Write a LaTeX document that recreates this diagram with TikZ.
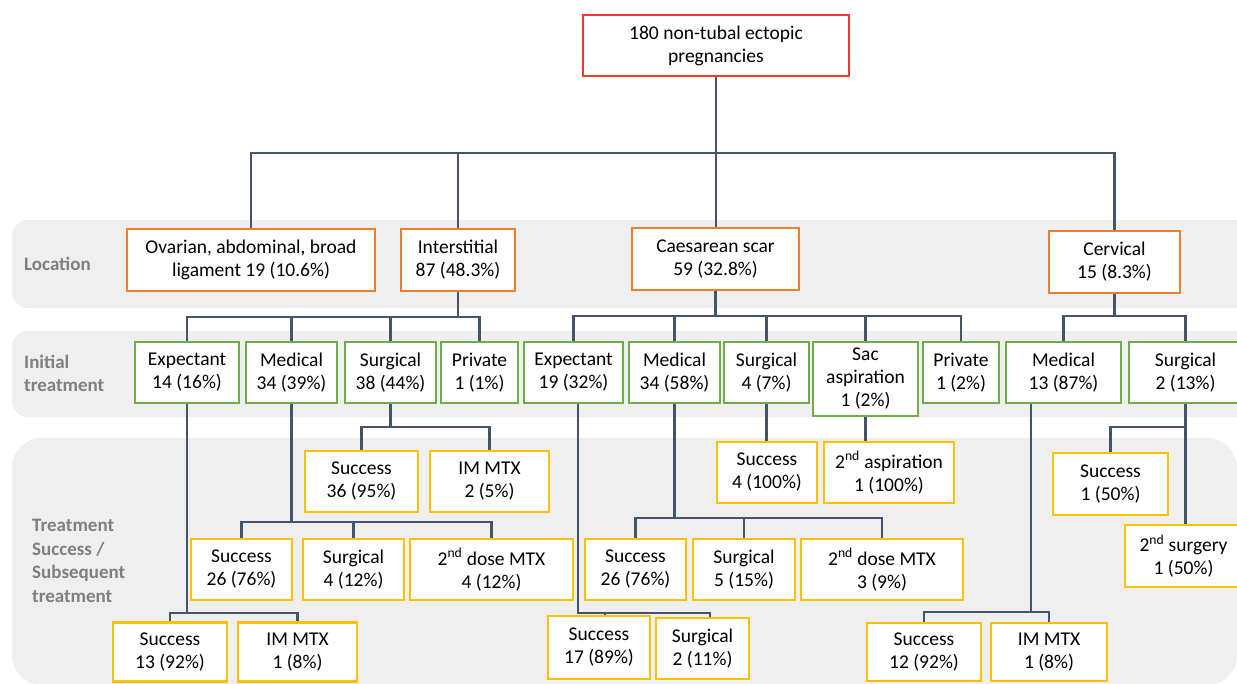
\documentclass[tikz,border=0pt]{standalone}
\usepackage{fontspec}
\setmainfont{Carlito}
\definecolor{lnc}{HTML}{44546A}
\definecolor{orng}{HTML}{ED7D31}
\definecolor{grn}{HTML}{70AD47}
\definecolor{ylw}{HTML}{FFC000}
\definecolor{rd}{HTML}{F03A2E}
\definecolor{band}{HTML}{EFEFEF}
\definecolor{labc}{HTML}{7F7F7F}
\begin{document}
\begin{tikzpicture}[x=1pt,y=-1pt,
  bx/.style={draw, line width=2.2pt, fill=white, inner sep=0pt, align=center,
     font=\fontsize{19.5}{23}\selectfont, text=black},
  rbox/.style={bx, draw=rd},
  obox/.style={bx, draw=orng},
  gbox/.style={bx, draw=grn},
  ybox/.style={bx, draw=ylw},
  ln/.style={draw=lnc, line width=2.2pt},
  lab/.style={anchor=west, align=left, inner sep=0pt, text=labc,
     font=\fontsize{19}{23.5}\selectfont\bfseries},
  bandbg/.style={fill=band, draw=none}
]
\useasboundingbox (0,0) rectangle (1237,683);
\clip (0,0) rectangle (1237,683);
\fill[white] (0,0) rectangle (1237,683);

% bands
\path[bandbg, rounded corners=16pt] (12,220) rectangle (1260,308);
\path[bandbg, rounded corners=16pt] (12,331) rectangle (1260,417);
\path[bandbg, rounded corners=30pt] (12,438) rectangle (1237,685);

% band labels
\node[lab] (labloc) at (24,264) {Location};
\node[lab] (labini) at (24,373.5) {Initial\\treatment};
\node[lab] (labsub) at (32,561) {Treatment\\Success /\\Subsequent\\treatment};

% boxes: root and location
\node[rbox, minimum width=266, minimum height=61] (root) at (716,45.5) {180 non-tubal ectopic\\pregnancies};
\node[obox, minimum width=248, minimum height=62] (ova) at (251,260) {Ovarian, abdominal, broad\\ligament 19 (10.6\%)};
\node[obox, minimum width=114, minimum height=62] (inter) at (458,260) {Interstitial\\87 (48.3\%)};
\node[obox, minimum width=167, minimum height=62] (caes) at (715.5,259) {Caesarean scar\\59 (32.8\%)};
\node[obox, minimum width=131, minimum height=62] (cerv) at (1114.5,262) {Cervical\\15 (8.3\%)};

% initial treatment
\node[gbox, minimum width=104, minimum height=61] (exp1) at (187,372.5) {Expectant\\14 (16\%)};
\node[gbox, minimum width=91, minimum height=61] (med1) at (291.5,372.5) {Medical\\34 (39\%)};
\node[gbox, minimum width=91, minimum height=61] (sur1) at (390.5,372.5) {Surgical\\38 (44\%)};
\node[gbox, minimum width=77, minimum height=61] (pri1) at (479.5,372.5) {Private\\1 (1\%)};
\node[gbox, minimum width=99, minimum height=61] (exp2) at (573.5,372.5) {Expectant\\19 (32\%)};
\node[gbox, minimum width=91, minimum height=61] (med2) at (674.5,372.5) {Medical\\34 (58\%)};
\node[gbox, minimum width=85, minimum height=61] (sur2) at (766.5,372.5) {Surgical\\4 (7\%)};
\node[gbox, minimum width=105, minimum height=74] (sac) at (865.5,379) {Sac\\aspiration\\1 (2\%)};
\node[gbox, minimum width=76, minimum height=61] (pri2) at (961,372.5) {Private\\1 (2\%)};
\node[gbox, minimum width=115, minimum height=61] (med3) at (1063.5,372.5) {Medical\\13 (87\%)};
\node[gbox, minimum width=113, minimum height=61] (sur3) at (1185.5,372.5) {Surgical\\2 (13\%)};

% subsequent
\node[ybox, minimum width=113, minimum height=61] (s36) at (361.5,481.5) {Success\\36 (95\%)};
\node[ybox, minimum width=119, minimum height=61] (im2) at (489.5,481.5) {IM MTX\\2 (5\%)};
\node[ybox, minimum width=100, minimum height=61] (s4) at (767,472.5) {Success\\4 (100\%)};
\node[ybox, minimum width=130, minimum height=61] (asp2) at (889,472.5) {2\textsuperscript{nd} aspiration\\1 (100\%)};
\node[ybox, minimum width=115, minimum height=62] (s1c) at (1110.5,484) {Success\\1 (50\%)};
\node[ybox, minimum width=117, minimum height=62] (sur2nd) at (1183.5,556) {2\textsuperscript{nd} surgery\\1 (50\%)};

\node[ybox, minimum width=101, minimum height=61] (s26a) at (241.5,569.5) {Success\\26 (76\%)};
\node[ybox, minimum width=101, minimum height=61] (sg4) at (353.5,569.5) {Surgical\\4 (12\%)};
\node[ybox, minimum width=163, minimum height=61] (dose4) at (491.5,569.5) {2\textsuperscript{nd} dose MTX\\4 (12\%)};
\node[ybox, minimum width=101, minimum height=61] (s26b) at (635.5,569.5) {Success\\26 (76\%)};
\node[ybox, minimum width=102, minimum height=61] (sg5) at (744,569.5) {Surgical\\5 (15\%)};
\node[ybox, minimum width=162, minimum height=61] (dose3) at (882,569.5) {2\textsuperscript{nd} dose MTX\\3 (9\%)};

\node[ybox, minimum width=114, minimum height=59] (s13) at (170,652) {Success\\13 (92\%)};
\node[ybox, minimum width=119, minimum height=59] (im1a) at (297.5,652) {IM MTX\\1 (8\%)};
\node[ybox, minimum width=102, minimum height=63] (s17) at (599,647.5) {Success\\17 (89\%)};
\node[ybox, minimum width=93, minimum height=61] (sg2) at (702.5,648.5) {Surgical\\2 (11\%)};
\node[ybox, minimum width=114, minimum height=58] (s12) at (924,652) {Success\\12 (92\%)};
\node[ybox, minimum width=116, minimum height=58] (im1b) at (1049,652) {IM MTX\\1 (8\%)};

% helper coordinates for off-centre connectors
\path (exp2.south) ++(4.5,0) coordinate (e2);
\path (s17.north) ++(6,0) coordinate (s17t);
\path (sg2.north) ++(7.5,0) coordinate (sg2t);
\path (med3.south) ++(-32.5,0) coordinate (m3);

% connectors
\draw[ln] (root.south) -- (root.south |- caes.north);
\draw[ln] (ova.north) |- (cerv.north |- 0,153) -- (cerv.north);
\draw[ln] (inter.north) -- (inter.north |- 0,153);

\draw[ln] (inter.south) -- (inter.south |- 0,317);
\draw[ln] (exp1.north) |- (pri1.north |- 0,317) -- (pri1.north);
\draw[ln] (med1.north) -- (med1.north |- 0,317);
\draw[ln] (sur1.north) -- (sur1.north |- 0,317);

\draw[ln] (caes.south) -- (caes.south |- 0,316);
\draw[ln] (exp2.north) |- (pri2.north |- 0,316) -- (pri2.north);
\draw[ln] (med2.north) -- (med2.north |- 0,316);
\draw[ln] (sur2.north) -- (sur2.north |- 0,316);
\draw[ln] (sac.north) -- (sac.north |- 0,316);

\draw[ln] (cerv.south) -- (cerv.south |- 0,316);
\draw[ln] (med3.north) |- (sur3.north |- 0,316) -- (sur3.north);

\draw[ln] (sur1.south) -- (sur1.south |- 0,427);
\draw[ln] (s36.north) |- (im2.north |- 0,427) -- (im2.north);

\draw[ln] (sur2.south) -- (sur2.south |- s4.north);
\draw[ln] (sac.south) -- (sac.south |- asp2.north);

\draw[ln] (sur3.south) -- (sur3.south |- sur2nd.north);
\draw[ln] (s1c.north) |- (sur3.south |- 0,427);

\draw[ln] (med1.south) -- (med1.south |- 0,522);
\draw[ln] (s26a.north) |- (dose4.north |- 0,522) -- (dose4.north);
\draw[ln] (sg4.north) -- (sg4.north |- 0,522);

\draw[ln] (exp1.south) -- (exp1.south |- 0,613);
\draw[ln] (s13.north) |- (im1a.north |- 0,613) -- (im1a.north);

\draw[ln] (e2) |- (sg2t |- 0,613) -- (sg2t);
\draw[ln] (s17t) -- (s17t |- 0,613);

\draw[ln] (med2.south) -- (med2.south |- 0,518);
\draw[ln] (s26b.north) |- (dose3.north |- 0,518) -- (dose3.north);
\draw[ln] (sg5.north) -- (sg5.north |- 0,518);

\draw[ln] (m3) -- (m3 |- 0,612);
\draw[ln] (s12.north) |- (im1b.north |- 0,612) -- (im1b.north);
\end{tikzpicture}
\end{document}
